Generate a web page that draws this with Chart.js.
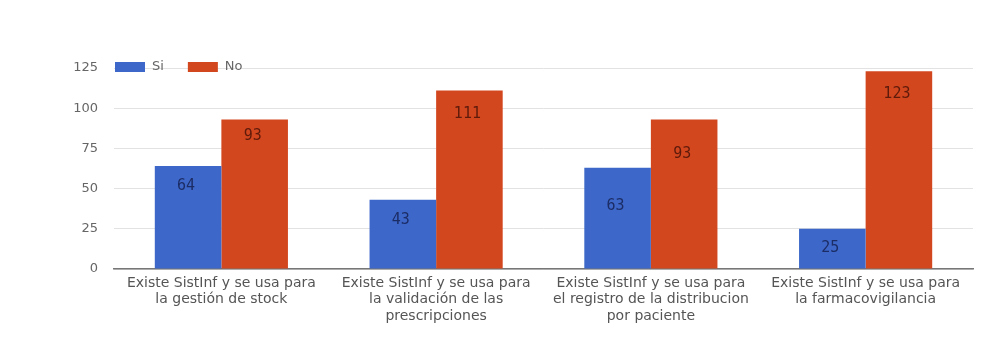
<!DOCTYPE html>
<html>
<head>
<meta charset="utf-8">
<script src="https://cdn.jsdelivr.net/npm/chart.js@4.4.1/dist/chart.umd.min.js"></script>
<style>
html,body{margin:0;padding:0;background:#fff;}
#wrap{width:1005px;height:355px;position:relative;}
</style>
</head>
<body>
<div id="wrap"><canvas id="c" width="1005" height="355"></canvas></div>
<script>
const categories = [
  ["Existe SistInf y se usa para", "la gestión de stock"],
  ["Existe SistInf y se usa para", "la validación de las", "prescripciones"],
  ["Existe SistInf y se usa para", "el registro de la distribucion", "por paciente"],
  ["Existe SistInf y se usa para", "la farmacovigilancia"]
];
const seriesNames = ["Si", "No"];
const siValues = [64, 43, 63, 25];
const noValues = [93, 111, 93, 123];
const yTicks = [0, 25, 50, 75, 100, 125];

const colors = ["#3d67c9", "#d3471f"];
const labelColors = ["#1c2d66", "#5e1a0a"];
const labelDrop = [[20, 20, 38, 19], [17, 24, 35, 23]];

const valueLabels = {
  id: 'valueLabels',
  afterDatasetsDraw(chart) {
    const ctx = chart.ctx;
    ctx.save();
    ctx.font = '15px "DejaVu Sans Mono", monospace';
    ctx.textAlign = 'center';
    ctx.textBaseline = 'middle';
    chart.data.datasets.forEach((ds, di) => {
      const meta = chart.getDatasetMeta(di);
      meta.data.forEach((bar, i) => {
        ctx.fillStyle = labelColors[di];
        ctx.fillText(String(ds.data[i]), bar.x - 2, bar.y + labelDrop[di][i]);
      });
    });
    ctx.restore();
  }
};

const customLegend = {
  id: 'customLegend',
  afterDraw(chart) {
    const ctx = chart.ctx;
    ctx.save();
    ctx.font = '13px "DejaVu Sans", sans-serif';
    ctx.textBaseline = 'middle';
    let x = chart.chartArea.left + 1;
    const y = 67;
    chart.data.datasets.forEach((ds, di) => {
      ctx.fillStyle = ds.backgroundColor;
      ctx.fillRect(x, y - 5, 30, 10);
      ctx.fillStyle = '#666';
      ctx.fillText(ds.label, x + 37, y);
      x += 37 + ctx.measureText(ds.label).width + 24;
    });
    ctx.restore();
  }
};

new Chart(document.getElementById('c'), {
  type: 'bar',
  data: {
    labels: categories,
    datasets: [
      { label: seriesNames[0], data: siValues, backgroundColor: colors[0] },
      { label: seriesNames[1], data: noValues, backgroundColor: colors[1] }
    ]
  },
  options: {
    responsive: false,
    animation: false,
    devicePixelRatio: 1,
    layout: { padding: { top: 68, right: 32, bottom: 0, left: 0 } },
    plugins: { legend: { display: false }, tooltip: { enabled: false } },
    datasets: { bar: { categoryPercentage: 0.62, barPercentage: 1.0 } },
    scales: {
      x: {
        grid: { display: false, drawTicks: false },
        border: { display: true, color: '#777', width: 1.5 },
        ticks: {
          color: '#555',
          font: { family: '"DejaVu Sans", sans-serif', size: 14, lineHeight: '16.5px' },
          padding: 6,
          maxRotation: 0,
          autoSkip: false
        },
        afterFit(scale) { scale.height = 86; }
      },
      y: {
        min: 0,
        max: 125,
        afterBuildTicks(scale) { scale.ticks = yTicks.map(v => ({ value: v })); },
        grid: { color: '#e2e2e2', lineWidth: 1, drawTicks: false },
        border: { display: false },
        ticks: {
          color: '#666',
          font: { family: '"DejaVu Sans", sans-serif', size: 13 },
          padding: 16
        },
        afterFit(scale) { scale.width = 114; }
      }
    }
  },
  plugins: [valueLabels, customLegend]
});
</script>
</body>
</html>
